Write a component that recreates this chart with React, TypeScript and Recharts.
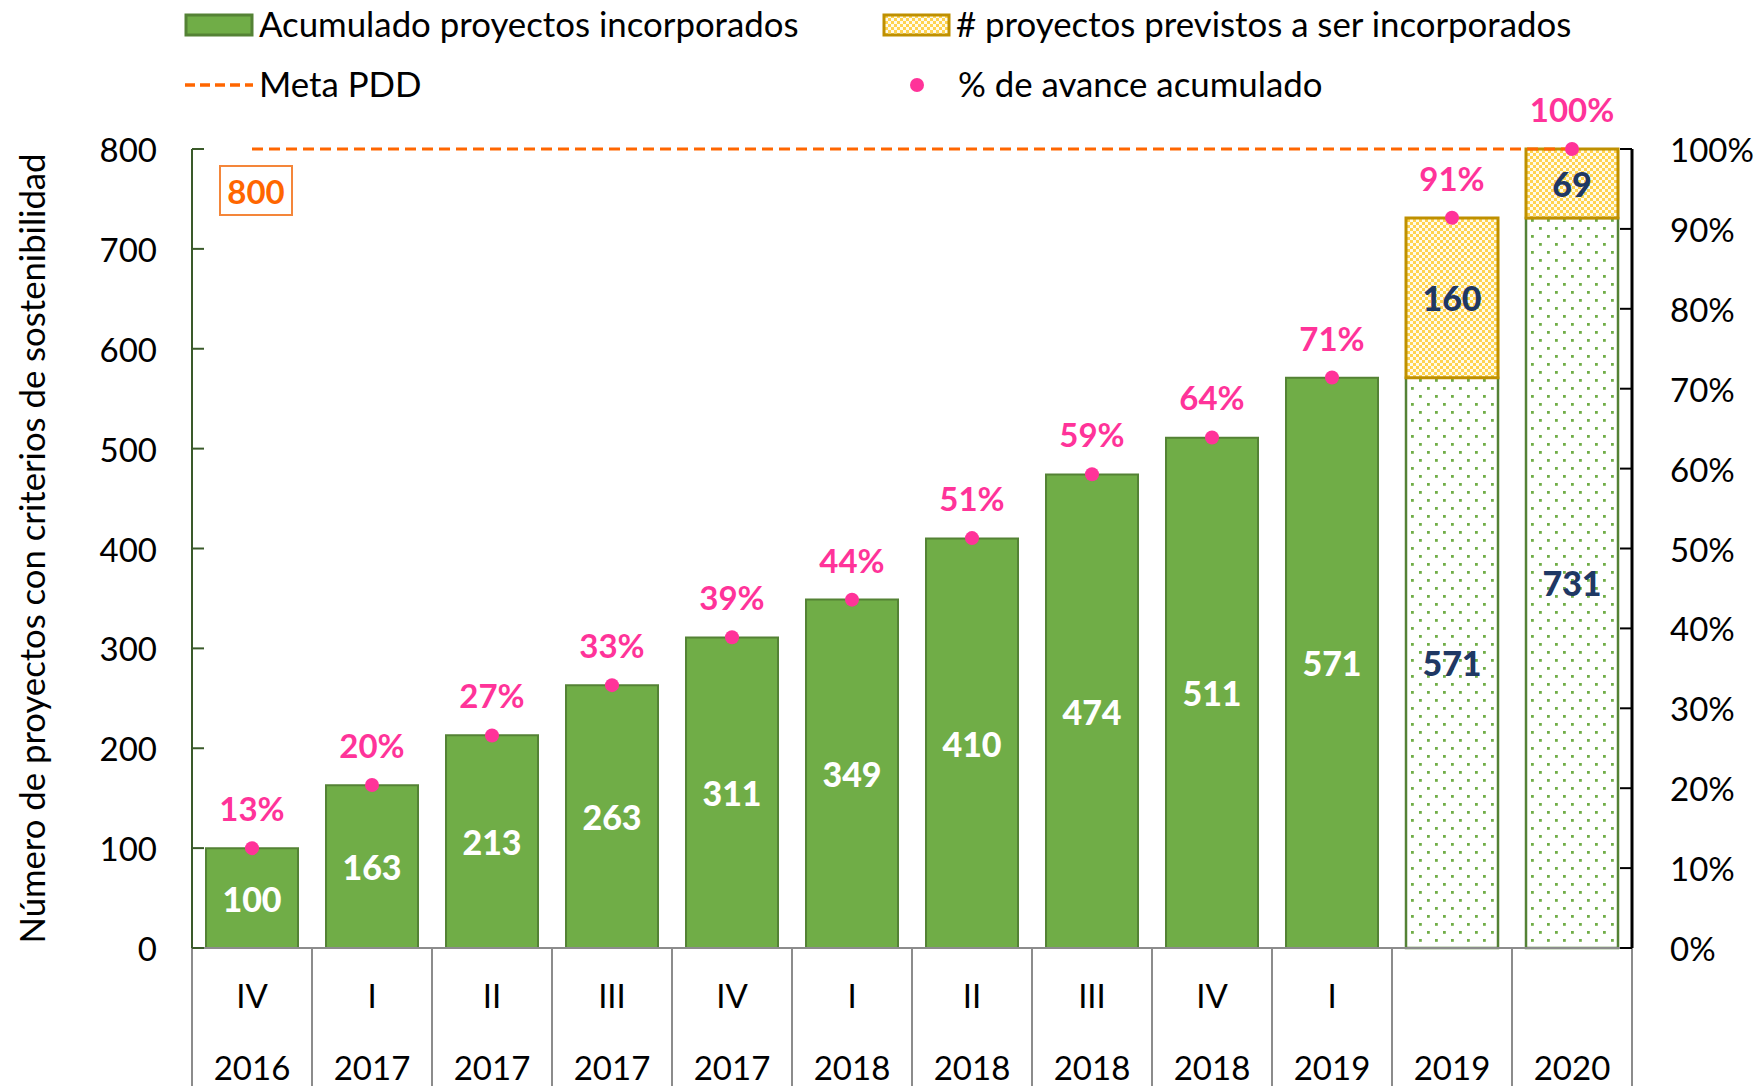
import { ComposedChart, Bar, Line, XAxis, YAxis, LabelList } from "recharts";

const trimestres = ["IV", "I", "II", "III", "IV", "I", "II", "III", "IV", "I", "", ""];
const anios = ["2016", "2017", "2017", "2017", "2017", "2018", "2018", "2018", "2018", "2019", "2019", "2020"];
const acumulado = [100, 163, 213, 263, 311, 349, 410, 474, 511, 571, null, null];
const baseProyectada = [null, null, null, null, null, null, null, null, null, null, 571, 731];
const previstos = [null, null, null, null, null, null, null, null, null, null, 160, 69];
const metaPdd = [800, 800, 800, 800, 800, 800, 800, 800, 800, 800, 800, 800];
const avance = [12.5, 20.4, 26.6, 32.9, 38.9, 43.6, 51.3, 59.3, 63.9, 71.4, 91.4, 100];
const ticksIzq = [0, 100, 200, 300, 400, 500, 600, 700, 800];
const ticksDer = [0, 10, 20, 30, 40, 50, 60, 70, 80, 90, 100];

const data = trimestres.map((t, i) => ({
  trimestre: t,
  anio: anios[i],
  cat: `${t} ${anios[i]}`,
  acumulado: acumulado[i],
  base: baseProyectada[i],
  previstos: previstos[i],
  meta: metaPdd[i],
  avance: avance[i],
}));

const FONT = "Lato, 'Noto Sans', sans-serif";
const W = 1757;
const H = 1086;
const LEFT_W = 192;
const RIGHT_W = 125;
const TOP = 149;
const X_H = 138;
const HALF_BAND = (W - LEFT_W - RIGHT_W) / trimestres.length / 2;

const VERDE = "#70AD47";
const VERDE_BORDE = "#548235";
const ORO = "#BF9000";
const ROSA = "#FF3399";
const NARANJA = "#FF6600";
const AZUL = "#1F3864";
const GRIS = "#8C8C8C";

function box(props: any) {
  const vb = props.viewBox ?? props;
  return { x: vb.x ?? props.x, y: vb.y ?? props.y, width: vb.width ?? 0, height: vb.height ?? 0 };
}

const barLabel = (color: string) => (props: any) => {
  const { value } = props;
  const b = box(props);
  if (value == null || !b.height) return null;
  return (
    <text
      x={b.x + b.width / 2}
      y={b.y + b.height / 2}
      textAnchor="middle"
      dominantBaseline="central"
      fill={color}
      fontWeight="900"
      fontSize={34}
      fontFamily={FONT}
    >
      {value}
    </text>
  );
};

const avanceLabel = (props: any) => {
  const b = box(props);
  if (props.value == null) return null;
  return (
    <text x={b.x} y={b.y - 40} textAnchor="middle" dominantBaseline="central" fill={ROSA} fontWeight="bold" fontSize={33} fontFamily={FONT}>
      {`${Math.round(props.value)}%`}
    </text>
  );
};

const metaLabel = (props: any) => {
  if (props.index !== 0) return null;
  const b = box(props);
  return (
    <g>
      <rect x={b.x - 32} y={b.y + 17} width={72} height={49} fill="#fff" stroke="#F4863A" strokeWidth={2} />
      <text x={b.x + 4} y={b.y + 42} textAnchor="middle" dominantBaseline="central" fill={NARANJA} fontWeight="bold" fontSize={33} fontFamily={FONT}>
        {props.value}
      </text>
    </g>
  );
};

const LeftTick = (props: any) => {
  const { x, y, payload } = props;
  return (
    <g>
      <line x1={x + 35} x2={x + 47} y1={y} y2={y} stroke="#3A5A2A" strokeWidth={2} />
      <text x={x} y={y} textAnchor="end" dominantBaseline="central" fontSize={33} fontFamily={FONT} fill="#000">
        {payload.value}
      </text>
    </g>
  );
};

const RightTick = (props: any) => {
  const { x, y, payload } = props;
  return (
    <g>
      <line x1={x - 38} x2={x - 50} y1={y} y2={y} stroke="#000" strokeWidth={2} />
      <text x={x} y={y} textAnchor="start" dominantBaseline="central" fontSize={33} fontFamily={FONT} fill="#000">
        {`${payload.value}%`}
      </text>
    </g>
  );
};

const CatTick = (props: any) => {
  const { x, y, index } = props;
  const d = data[index] ?? data.find((e) => e.cat === props.payload.value);
  return (
    <g>
      <line x1={x - HALF_BAND} x2={x - HALF_BAND} y1={y} y2={y + X_H} stroke={GRIS} strokeWidth={2} />
      <line x1={x + HALF_BAND} x2={x + HALF_BAND} y1={y} y2={y + X_H} stroke={GRIS} strokeWidth={2} />
      <text x={x} y={y + 47} textAnchor="middle" dominantBaseline="central" fontSize={33} fontFamily={FONT} fill="#000">
        {d?.trimestre}
      </text>
      <text x={x} y={y + 119} textAnchor="middle" dominantBaseline="central" fontSize={33} fontFamily={FONT} fill="#000">
        {d?.anio}
      </text>
    </g>
  );
};

const YTitle = (props: any) => {
  const vb = props.viewBox;
  const cy = vb.y + vb.height / 2;
  return (
    <text x={31} y={cy} transform={`rotate(-90, 31, ${cy})`} textAnchor="middle" dominantBaseline="central" fontSize={34.7} fontFamily={FONT} fill="#000">
      Número de proyectos con criterios de sostenibilidad
    </text>
  );
};

function Patterns() {
  return (
    <svg width={0} height={0} style={{ position: "absolute" }}>
      <defs>
        <pattern id="puntosVerdes" patternUnits="userSpaceOnUse" width={16} height={16}>
          <rect width={16} height={16} fill="#fff" />
          <rect x={3} y={3} width={2.8} height={2.8} fill={VERDE} />
          <rect x={11} y={11} width={2.8} height={2.8} fill={VERDE} />
        </pattern>
        <pattern id="puntosAmarillos" patternUnits="userSpaceOnUse" width={6} height={6}>
          <rect width={6} height={6} fill="#FFFBEA" />
          <rect x={0} y={0} width={3} height={3} fill="#FFD34F" />
          <rect x={3} y={3} width={3} height={3} fill="#FFD34F" />
        </pattern>
      </defs>
    </svg>
  );
}

function Leyenda() {
  const txt: React.CSSProperties = { position: "absolute", fontSize: 34.8, fontFamily: FONT, color: "#000", lineHeight: "40px", whiteSpace: "nowrap" };
  return (
    <>
      <svg width={W} height={110} style={{ position: "absolute", left: 0, top: 0 }}>
        <rect x={186} y={15} width={66} height={20} fill={VERDE} stroke={VERDE_BORDE} strokeWidth={3} />
        <rect x={884} y={15} width={65} height={20} fill="url(#puntosAmarillos)" stroke={ORO} strokeWidth={3} />
        <line x1={185} x2={253} y1={85} y2={85} stroke={NARANJA} strokeWidth={3.5} strokeDasharray="10 5" />
        <circle cx={917} cy={85} r={7} fill={ROSA} />
      </svg>
      <div style={{ ...txt, left: 259, top: 4 }}>Acumulado proyectos incorporados</div>
      <div style={{ ...txt, left: 956, top: 4 }}># proyectos previstos a ser incorporados</div>
      <div style={{ ...txt, left: 259, top: 64 }}>Meta PDD</div>
      <div style={{ ...txt, left: 958, top: 64 }}>% de avance acumulado</div>
    </>
  );
}

export default function App() {
  return (
    <div style={{ position: "relative", width: W, height: H, background: "#fff", fontFamily: FONT }}>
      <style>{`body { margin: 0; }`}</style>
      <Patterns />
      <Leyenda />
      <ComposedChart
        width={W}
        height={H}
        data={data}
        margin={{ top: TOP, right: 0, bottom: 0, left: 0 }}
        barCategoryGap="11.67%"
      >
        <XAxis
          dataKey="cat"
          xAxisId="x"
          height={X_H}
          interval={0}
          tickSize={0}
          tickMargin={0}
          tickLine={false}
          axisLine={{ stroke: GRIS, strokeWidth: 2 }}
          tick={<CatTick />}
        />
        <YAxis
          yAxisId="n"
          orientation="left"
          width={LEFT_W}
          domain={[0, 800]}
          ticks={ticksIzq}
          tickSize={0}
          tickMargin={35}
          tickLine={false}
          axisLine={{ stroke: "#3A5A2A", strokeWidth: 2 }}
          tick={<LeftTick />}
          label={<YTitle />}
        />
        <YAxis
          yAxisId="pct"
          orientation="right"
          width={RIGHT_W}
          domain={[0, 100]}
          ticks={ticksDer}
          tickSize={0}
          tickMargin={38}
          tickLine={false}
          axisLine={{ stroke: "#000", strokeWidth: 3 }}
          tick={<RightTick />}
        />
        <Bar xAxisId="x" yAxisId="n" dataKey="acumulado" stackId="a" fill={VERDE} stroke={VERDE_BORDE} strokeWidth={2} isAnimationActive={false}>
          <LabelList dataKey="acumulado" content={barLabel("#fff")} />
        </Bar>
        <Bar xAxisId="x" yAxisId="n" dataKey="base" stackId="a" fill="url(#puntosVerdes)" stroke={VERDE_BORDE} strokeWidth={2.5} isAnimationActive={false}>
          <LabelList dataKey="base" content={barLabel(AZUL)} />
        </Bar>
        <Bar xAxisId="x" yAxisId="n" dataKey="previstos" stackId="a" fill="url(#puntosAmarillos)" stroke={ORO} strokeWidth={3} isAnimationActive={false}>
          <LabelList dataKey="previstos" content={barLabel(AZUL)} />
        </Bar>
        <Line
          xAxisId="x"
          yAxisId="n"
          dataKey="meta"
          stroke={NARANJA}
          strokeWidth={3}
          strokeDasharray="11 6"
          dot={false}
          activeDot={false}
          isAnimationActive={false}
        >
          <LabelList dataKey="meta" content={metaLabel} />
        </Line>
        <Line
          xAxisId="x"
          yAxisId="pct"
          dataKey="avance"
          stroke="none"
          dot={{ r: 7, fill: ROSA, stroke: ROSA, strokeWidth: 0 }}
          activeDot={false}
          isAnimationActive={false}
        >
          <LabelList dataKey="avance" content={avanceLabel} />
        </Line>
      </ComposedChart>
    </div>
  );
}
